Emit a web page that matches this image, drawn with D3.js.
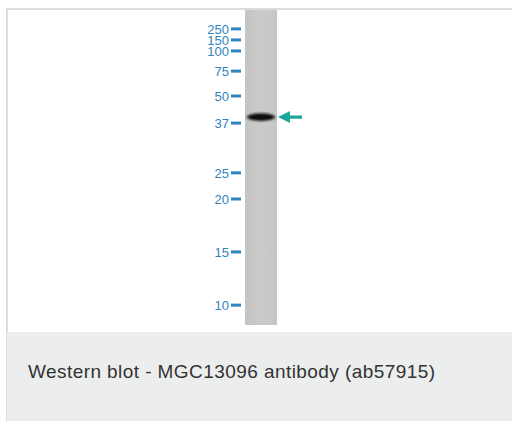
<!DOCTYPE html>
<html><head><meta charset="utf-8">
<script src="https://cdn.jsdelivr.net/npm/d3@7"></script>
<style>html,body{margin:0;padding:0;background:#fff;}svg{display:block;}</style>
</head><body>
<script>
// Marker ladder (kDa) and relative migration (fraction of lane length)
const markerLabels = ["250","150","100","75","50","37","25","20","15","10"];
const markerRf = [0.060, 0.095, 0.130, 0.194, 0.273, 0.359, 0.517, 0.600, 0.768, 0.937];
// Detected band(s): relative migration and intensity
const bandRf = [0.340];
const bandIntensity = [1.0];
const caption = "Western blot - MGC13096 antibody (ab57915)";

const W = 512, H = 421;
const svg = d3.select("body").append("svg").attr("width", W).attr("height", H);
const defs = svg.append("defs");
const blur = defs.append("filter").attr("id","blur").attr("x","-30%").attr("y","-100%").attr("width","160%").attr("height","300%");
blur.append("feGaussianBlur").attr("stdDeviation","1.4 1.2");
const lg = defs.append("linearGradient").attr("id","lane").attr("x1",0).attr("x2",1).attr("y1",0).attr("y2",0);
lg.append("stop").attr("offset","0%").attr("stop-color","#c4c4c4");
lg.append("stop").attr("offset","50%").attr("stop-color","#cbcbcb");
lg.append("stop").attr("offset","100%").attr("stop-color","#c6c6c6");

// frame
svg.append("rect").attr("x",6).attr("y",8).attr("width",W-6).attr("height",H-8).attr("fill","#dcdcdc");
svg.append("rect").attr("x",8).attr("y",10).attr("width",W-8).attr("height",322).attr("fill","#fff");
// caption panel
svg.append("rect").attr("x",7).attr("y",332).attr("width",W-7).attr("height",89).attr("fill","#eceeed");
svg.append("text").attr("x",28).attr("y",378).attr("font-family","Liberation Sans, Arial, sans-serif")
  .attr("font-size",19).attr("fill","#333").attr("textLength",407).attr("lengthAdjust","spacing").text(caption);

const laneX0 = 245, laneX1 = 277, laneTop = 10, laneBottom = 325;
const y = d3.scaleLinear().domain([0,1]).range([laneTop, laneBottom]);

svg.append("rect").attr("x",laneX0).attr("y",laneTop).attr("width",laneX1-laneX0).attr("height",laneBottom-laneTop)
  .attr("fill","url(#lane)");

// bands
svg.append("g").selectAll("ellipse").data(bandRf).join("ellipse")
  .attr("cx",(laneX0+laneX1)/2).attr("cy",d=>y(d)).attr("rx",14).attr("ry",3.8)
  .attr("fill","#0d0d0d").attr("opacity",(d,i)=>bandIntensity[i]).attr("filter","url(#blur)");

// marker ticks and labels
const mk = svg.append("g");
mk.selectAll("rect").data(markerRf).join("rect")
  .attr("x",231).attr("y",d=>y(d)-1.5).attr("width",10).attr("height",3).attr("fill","#2f84be");
mk.selectAll("text").data(markerRf).join("text")
  .attr("x",229).attr("y",d=>y(d)).attr("dy","0.36em").attr("text-anchor","end")
  .attr("font-family","Liberation Sans, Arial, sans-serif").attr("font-size",13)
  .attr("fill","#2f84be")
  .text((d,i)=>markerLabels[i]);

// arrow pointing at band
svg.append("g").selectAll("path").data(bandRf).join("path")
  .attr("d",d=>{const c=y(d);return `M278,${c} L290,${c-6} L290,${c-1.6} L302,${c-1.6} L302,${c+1.6} L290,${c+1.6} L290,${c+6} Z`;})
  .attr("fill","#1aa89a");
</script>
</body></html>
